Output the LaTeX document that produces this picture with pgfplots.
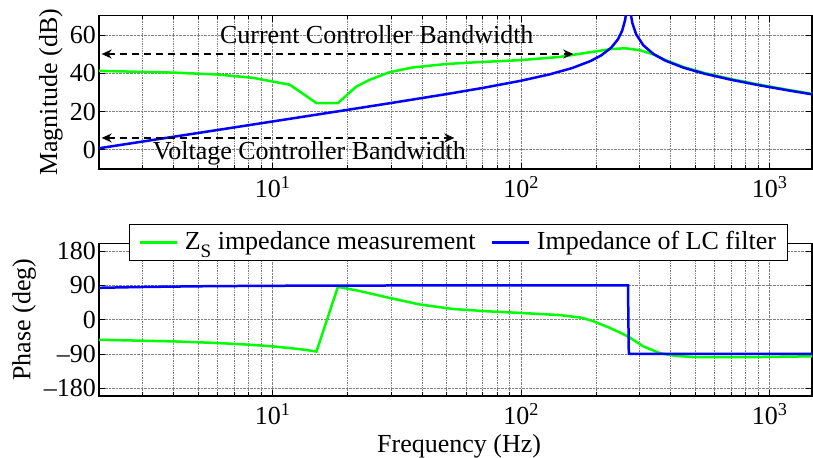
\documentclass[border=0pt]{standalone}
\usepackage{fontspec}
\setmainfont{Liberation Serif}
\usepackage{pgfplots}
\pgfplotsset{compat=1.18}
\usetikzlibrary{arrows.meta}
\definecolor{mgreen}{rgb}{0,1,0}
\definecolor{mblue}{rgb}{0,0,1}
\begin{document}
\fontsize{26bp}{31bp}\selectfont
\begin{tikzpicture}
\path[use as bounding box] (0,0) rectangle (813bp,458bp);
% Magnitude
\begin{axis}[scale only axis, width=713bp, height=153.3bp,
  at={(99bp,289bp)}, anchor=south west,
  xmode=log, xmin=2, xmax=1480,
  xtick={10,100,1000},
  xticklabels={10\textsuperscript{1},10\textsuperscript{2},10\textsuperscript{3}},
  minor xtick={2,3,4,5,6,7,8,9,20,30,40,50,60,70,80,90,200,300,400,500,600,700,800,900},
  xmajorgrids, xminorgrids, ymajorgrids,
  grid style={densely dotted, gray, line width=0.7bp},
  minor grid style={densely dotted, gray, line width=0.7bp},
  tick align=inside,
  major tick length=6bp, minor tick length=3.5bp,
  tick style={black, line width=0.7bp},
  axis line style={line width=1.1bp},
  xticklabel style={anchor=north, inner sep=0pt, yshift=-7bp},
  yticklabel style={anchor=east, inner sep=0pt, xshift=-3bp},
  ymin=-10, ymax=70, ytick={0,20,40,60}, yticklabels={0,20,40,60},
  ylabel={Magnitude (dB)},
  ylabel style={at={(axis description cs:-0.0673,0.5)}, anchor=center, inner sep=0pt},
]
\addplot[mgreen, line width=2.5bp] coordinates {
(2,41.2) (4,40.3) (6,39.3) (8.3,37.6) (11.7,34.0) (15,24.4) (18.3,24.4)
(21.7,33.0) (24.5,36.5) (29.5,40.5) (36.6,43.0) (50,44.8) (68,45.8) (99,46.8)
(143,48.5) (195,51.2) (230,52.6) (262,53.0) (300,52.0) (340,49.8) (380,46.9)
(450,43.2) (550,40.0) (700,36.9) (900,34.1) (1200,31.2) (1480,29.2)};
\addplot[mblue, line width=2.5bp] coordinates {
(2,0.82) (3,4.34) (5,8.78) (7,11.70) (10,14.81) (15,18.35) (20,20.87) (30,24.45)
(50,29.08) (70,32.30) (100,36.08) (130,39.37) (160,42.64) (190,46.32) (210,49.31)
(230,53.27) (245,57.64) (255,62.26) (262,67.84) (266,73.93) (268,79.96) (270,95)
(272,80.0) (275,72.13) (280,66.19) (290,60.32) (310,54.58) (340,50.08) (380,46.57)
(450,42.86) (550,39.65) (700,36.55) (900,33.78) (1200,30.92) (1480,28.95)};
\draw[black, line width=2bp, dash pattern=on 7bp off 5bp, {Stealth[length=10bp,width=9bp]}-{Stealth[length=10bp,width=9bp]}] (2.05,50) -- (162,50);
\draw[black, line width=2bp, dash pattern=on 7bp off 5bp, {Stealth[length=10bp,width=9bp]}-{Stealth[length=10bp,width=9bp]}] (2.05,6.2) -- (53.8,6.2);
\node[anchor=base west, inner sep=0pt] at (6.13,55.6) {Current Controller Bandwidth};
\node[anchor=base west, inner sep=0pt] at (3.29,-4.9) {Voltage Controller Bandwidth};
\end{axis}
% Phase
\begin{axis}[scale only axis, width=713bp, height=152.7bp,
  at={(99bp,62bp)}, anchor=south west,
  xmode=log, xmin=2, xmax=1480,
  xtick={10,100,1000},
  xticklabels={10\textsuperscript{1},10\textsuperscript{2},10\textsuperscript{3}},
  minor xtick={2,3,4,5,6,7,8,9,20,30,40,50,60,70,80,90,200,300,400,500,600,700,800,900},
  xmajorgrids, xminorgrids, ymajorgrids,
  grid style={densely dotted, gray, line width=0.7bp},
  minor grid style={densely dotted, gray, line width=0.7bp},
  tick align=inside,
  major tick length=6bp, minor tick length=3.5bp,
  tick style={black, line width=0.7bp},
  axis line style={line width=1.1bp},
  xticklabel style={anchor=north, inner sep=0pt, yshift=-7bp},
  yticklabel style={anchor=east, inner sep=0pt, xshift=-3bp},
  ymin=-200, ymax=200, ytick={-180,-90,0,90,180}, yticklabels={--180,--90,0,90,180},
  ylabel={Phase (deg)},
  ylabel style={at={(axis description cs:-0.105,0.5)}, anchor=center, inner sep=0pt},
  xlabel={Frequency (Hz)},
  xlabel style={at={(axis description cs:0.505,-0.370)}, anchor=base, inner sep=0pt},
  legend columns=2,
  legend image code/.code={\draw[#1] (0bp,0bp) -- (37bp,0bp);},
  legend style={at={(axis description cs:0.042,1.126)}, anchor=north west,
    draw=black, line width=0.8bp, fill=white, inner xsep=9bp, inner ysep=5bp,
    /tikz/every odd column/.append style={column sep=5bp},
    /tikz/every even column/.append style={column sep=13bp}},
]
\addplot[mgreen, line width=2.5bp] coordinates {
(2,-52.7) (4,-57) (5.9,-61) (8,-65.5) (10,-70) (12.8,-77) (15,-83.5) (18.3,86)
(22,76) (29.5,57) (38.9,40) (53,28) (72.7,22) (99,17.6) (143,12) (175,5)
(195,-4) (228,-22) (250,-34) (272,-46) (310,-70) (362,-88) (420,-95) (493,-98)
(900,-98) (1480,-96)};
\addlegendentry{Z\raisebox{-0.32em}{\fontsize{19bp}{19bp}\selectfont S} impedance measurement}
\addplot[mblue, line width=2.5bp] coordinates {
(2,83.4) (3,85.6) (5,87.4) (7,88.1) (10,88.7) (20,89.3) (50,89.7) (100,89.9)
(269,89.9) (271,-89.9) (1480,-89.9)};
\addlegendentry{Impedance of LC filter}
\end{axis}
\end{tikzpicture}
\end{document}
